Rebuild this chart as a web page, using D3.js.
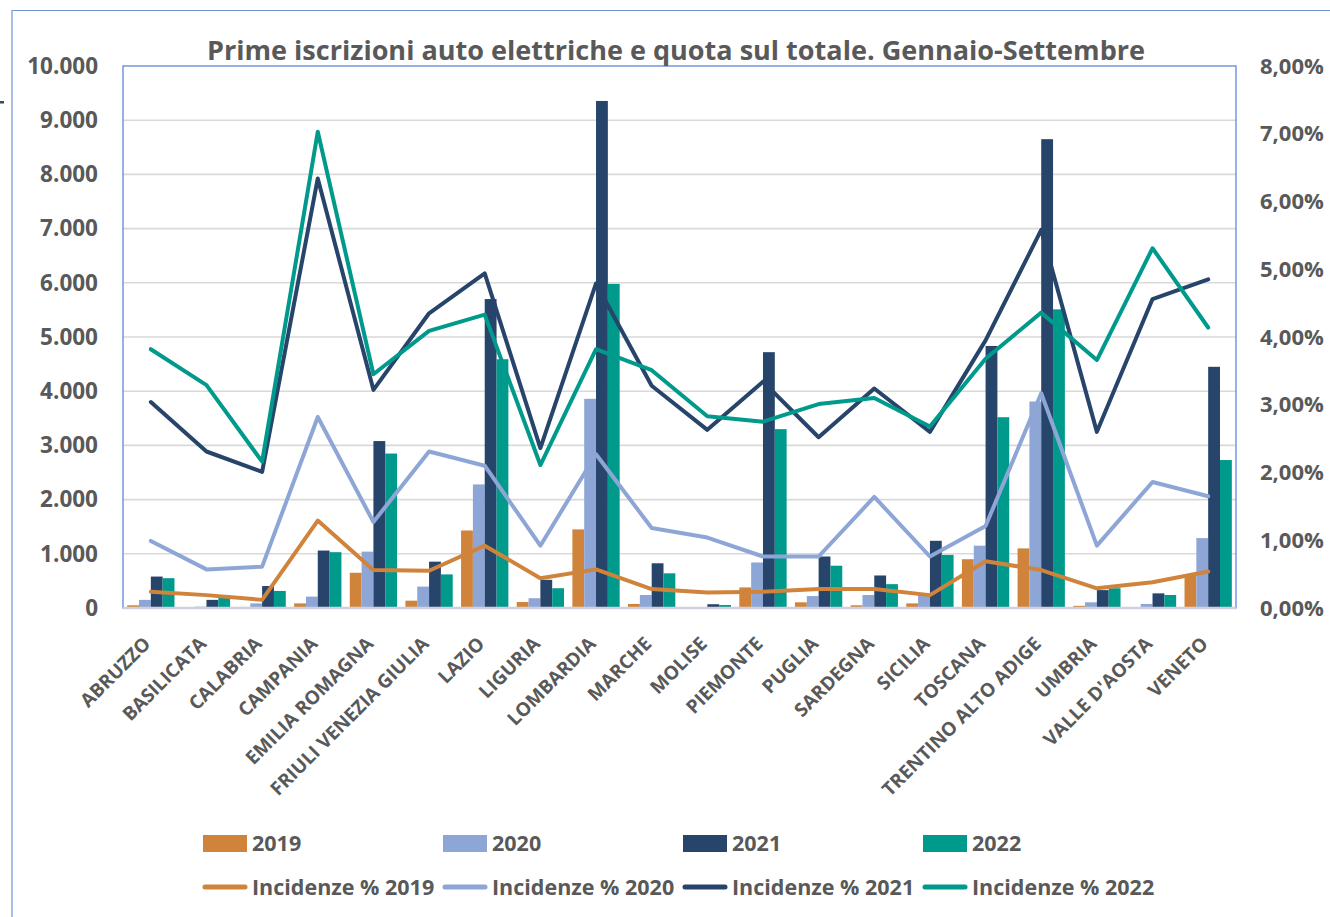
<!DOCTYPE html>
<html lang="it">
<head>
<meta charset="utf-8"/>
<script src="https://d3js.org/d3.v7.min.js"></script>
<style>
  body { margin: 0; background: #fff; }
  text { font-family: "Open Sans", "Noto Sans", sans-serif; font-weight: 700; fill: #595959; }
</style>
</head>
<body>
<div id="chart"></div>
<script>
// dati
var regions = ["ABRUZZO", "BASILICATA", "CALABRIA", "CAMPANIA", "EMILIA ROMAGNA",
  "FRIULI VENEZIA GIULIA", "LAZIO", "LIGURIA", "LOMBARDIA", "MARCHE", "MOLISE",
  "PIEMONTE", "PUGLIA", "SARDEGNA", "SICILIA", "TOSCANA", "TRENTINO ALTO ADIGE",
  "UMBRIA", "VALLE D'AOSTA", "VENETO"];
var years = ["2019", "2020", "2021", "2022"];

var reg2019 = [50, 8, 20, 85, 650, 135, 1430, 110, 1450, 75, 5, 380, 105, 50, 85, 900, 1100, 40, 10, 610];
var reg2020 = [150, 25, 85, 210, 1040, 395, 2280, 180, 3860, 240, 10, 840, 220, 240, 240, 1150, 3810, 105, 75, 1290];
var reg2021 = [580, 150, 405, 1060, 3080, 855, 5700, 520, 9355, 825, 70, 4720, 950, 600, 1240, 4835, 8650, 330, 270, 4450];
var reg2022 = [550, 185, 315, 1030, 2850, 620, 4590, 365, 5980, 640, 55, 3300, 780, 440, 980, 3520, 5510, 365, 240, 2730];

// incidenza % sul totale
var inc2019 = [0.24, 0.19, 0.12, 1.29, 0.56, 0.55, 0.92, 0.44, 0.57, 0.28, 0.23, 0.24, 0.28, 0.28, 0.19, 0.69, 0.56, 0.29, 0.38, 0.54];
var inc2020 = [0.99, 0.57, 0.61, 2.82, 1.27, 2.31, 2.10, 0.92, 2.27, 1.18, 1.04, 0.76, 0.76, 1.64, 0.76, 1.21, 3.17, 0.92, 1.86, 1.65];
var inc2021 = [3.04, 2.31, 2.01, 6.34, 3.22, 4.35, 4.94, 2.36, 4.79, 3.28, 2.63, 3.34, 2.52, 3.24, 2.60, 3.95, 5.58, 2.60, 4.56, 4.85];
var inc2022 = [3.82, 3.29, 2.16, 7.03, 3.45, 4.09, 4.33, 2.11, 3.82, 3.51, 2.83, 2.75, 3.01, 3.10, 2.68, 3.68, 4.36, 3.66, 5.31, 4.14];

var leftTicks = [0, 1000, 2000, 3000, 4000, 5000, 6000, 7000, 8000, 9000, 10000];
var rightTicks = [0, 1, 2, 3, 4, 5, 6, 7, 8];

var colors = ["#d0843b", "#8ea6d6", "#27446a", "#009a8c"];
var title = "Prime iscrizioni auto elettriche e quota sul totale. Gennaio-Settembre";

var barSeries = [reg2019, reg2020, reg2021, reg2022];
var lineSeries = [inc2019, inc2020, inc2021, inc2022];

var width = 1330, height = 917;
var plot = {left: 123, right: 1236, top: 66, bottom: 608};

var it = d3.formatLocale({decimal: ",", thousands: ".", grouping: [3], currency: ["€", ""]});

var svg = d3.select("#chart").append("svg")
    .attr("width", width)
    .attr("height", height);

// cornice esterna
svg.append("path")
    .attr("d", "M12,917V10.5H1330")
    .attr("fill", "none")
    .attr("stroke", "#7194d8")
    .attr("stroke-width", 1.2);
svg.append("rect").attr("x", 0).attr("y", 101).attr("width", 4).attr("height", 2.5).attr("fill", "#3a4a66");

var x0 = d3.scaleBand()
    .domain(regions)
    .range([plot.left, plot.right])
    .paddingInner(0.15)
    .paddingOuter(0.075);
var x1 = d3.scaleBand()
    .domain(years)
    .range([0, x0.bandwidth()]);
var yL = d3.scaleLinear().domain([0, 10000]).range([plot.bottom, plot.top]);
var yR = d3.scaleLinear().domain([0, 8]).range([plot.bottom, plot.top]);

// griglia
svg.append("g").selectAll("line")
    .data(leftTicks.slice(1, -1))
    .join("line")
    .attr("x1", plot.left).attr("x2", plot.right)
    .attr("y1", function (d) { return yL(d); })
    .attr("y2", function (d) { return yL(d); })
    .attr("stroke", "#d9d9d9")
    .attr("stroke-width", 1.6);

// bordo area del grafico
svg.append("rect")
    .attr("x", plot.left).attr("y", plot.top)
    .attr("width", plot.right - plot.left)
    .attr("height", plot.bottom - plot.top)
    .attr("fill", "none")
    .attr("stroke", "#5f87d6")
    .attr("stroke-width", 1.3);

// barre
var groups = svg.append("g").selectAll("g")
    .data(regions)
    .join("g")
    .attr("transform", function (d) { return "translate(" + x0(d) + ",0)"; });

groups.selectAll("rect")
    .data(function (d, i) {
        return years.map(function (y, k) { return {year: y, value: barSeries[k][i], k: k}; });
    })
    .join("rect")
    .attr("x", function (d) { return x1(d.year); })
    .attr("y", function (d) { return yL(d.value); })
    .attr("width", x1.bandwidth())
    .attr("height", function (d) { return plot.bottom - yL(d.value); })
    .attr("fill", function (d) { return colors[d.k]; });

// asse x
svg.append("line")
    .attr("x1", plot.left).attr("x2", plot.right)
    .attr("y1", plot.bottom).attr("y2", plot.bottom)
    .attr("stroke", "#cdd2da")
    .attr("stroke-width", 2.5);

// linee incidenza
var line = d3.line()
    .x(function (d, i) { return x0(regions[i]) + x0.bandwidth() / 2; })
    .y(function (d) { return yR(d); });

svg.append("g").selectAll("path")
    .data(lineSeries)
    .join("path")
    .attr("d", line)
    .attr("fill", "none")
    .attr("stroke", function (d, k) { return colors[k]; })
    .attr("stroke-width", 4)
    .attr("stroke-linejoin", "round")
    .attr("stroke-linecap", "round");

// assi y
var axL = svg.append("g")
    .attr("transform", "translate(" + plot.left + ",0)")
    .call(d3.axisLeft(yL).tickValues(leftTicks).tickSize(0).tickPadding(25).tickFormat(it.format(",")));
axL.select(".domain").remove();
axL.selectAll("text").attr("font-size", 22.5).attr("fill", "#595959")
    .style("font-family", null);

var axR = svg.append("g")
    .attr("transform", "translate(" + plot.right + ",0)")
    .call(d3.axisRight(yR).tickValues(rightTicks).tickSize(0).tickPadding(24)
        .tickFormat(function (d) { return it.format(",.2f")(d) + "%"; }));
axR.select(".domain").remove();
axR.selectAll("text").attr("font-size", 22).attr("fill", "#595959")
    .style("font-family", null);

// etichette regioni
svg.append("g").selectAll("text")
    .data(regions)
    .join("text")
    .attr("text-anchor", "end")
    .attr("font-size", 19)
    .attr("transform", function (d) {
        return "translate(" + (x0(d) + x0.bandwidth() / 2 + 1) + ",645) rotate(-45)";
    })
    .text(function (d) { return d; });

// titolo
svg.append("text")
    .attr("x", 676).attr("y", 60)
    .attr("text-anchor", "middle")
    .attr("font-size", 27.5)
    .attr("textLength", 938)
    .attr("lengthAdjust", "spacingAndGlyphs")
    .text(title);

// legenda
var leg = svg.append("g");
years.forEach(function (y, k) {
    var lx = 203 + k * 240;
    leg.append("rect")
        .attr("x", lx).attr("y", 835)
        .attr("width", 44).attr("height", 17)
        .attr("fill", colors[k]);
    leg.append("text")
        .attr("x", lx + 49).attr("y", 851)
        .attr("font-size", 21.5)
        .text(y);
    leg.append("line")
        .attr("x1", lx + 2).attr("x2", lx + 42)
        .attr("y1", 887).attr("y2", 887)
        .attr("stroke", colors[k])
        .attr("stroke-width", 5)
        .attr("stroke-linecap", "round");
    leg.append("text")
        .attr("x", lx + 49).attr("y", 895)
        .attr("font-size", 21.5)
        .text("Incidenze % " + y);
});
</script>
</body>
</html>
